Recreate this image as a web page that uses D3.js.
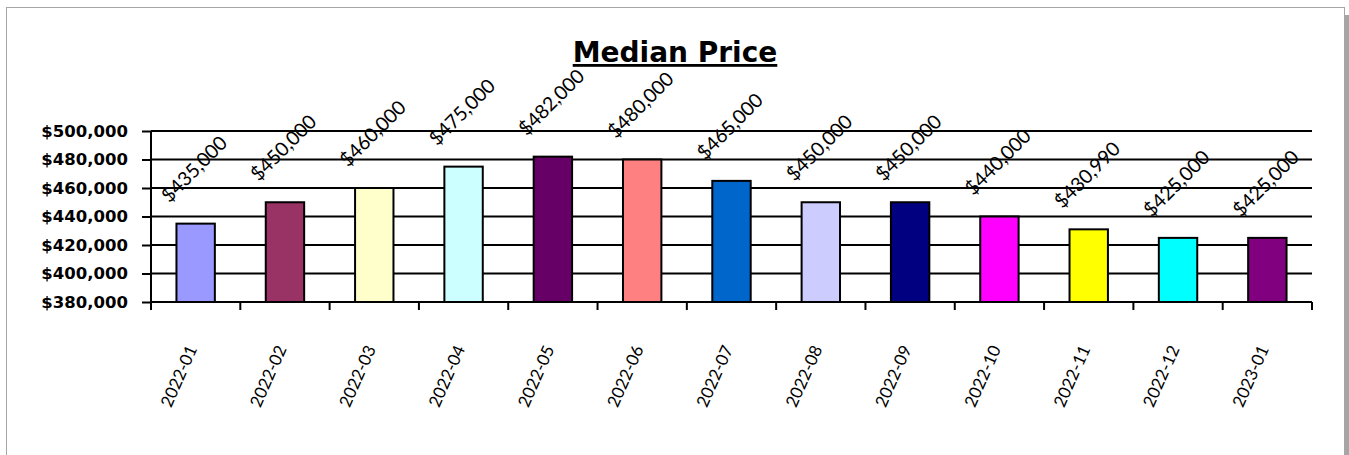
<!DOCTYPE html>
<html>
<head>
<meta charset="utf-8">
<script src="https://cdn.jsdelivr.net/npm/d3@7"></script>
<style>
  body { margin: 0; background: #fff; }
  svg { display: block; }
</style>
</head>
<body>
<div id="chart"></div>
<script>
const months = ['2022-01', '2022-02', '2022-03', '2022-04', '2022-05', '2022-06', '2022-07',
  '2022-08', '2022-09', '2022-10', '2022-11', '2022-12', '2023-01'];
const prices = [435000, 450000, 460000, 475000, 482000, 480000, 465000,
  450000, 450000, 440000, 430990, 425000, 425000];
const barColors = ['#9999ff', '#993366', '#ffffcc', '#ccffff', '#660066', '#ff8080', '#0066cc',
  '#ccccff', '#000080', '#ff00ff', '#ffff00', '#00ffff', '#800080'];
const yTicks = [380000, 400000, 420000, 440000, 460000, 480000, 500000];

const width = 1349;
const height = 455;
const margin = { top: 131, right: 37, bottom: 153, left: 151 };

const svg = d3.select('#chart').append('svg')
  .attr('width', width)
  .attr('height', height);

// frame + shadow on the right
svg.append('rect')
  .attr('x', 6.5).attr('y', 7.5)
  .attr('width', 1338).attr('height', 460)
  .attr('fill', 'none')
  .attr('stroke', '#a6a6a6')
  .attr('stroke-width', 1);
svg.append('rect')
  .attr('x', 1345).attr('y', 15)
  .attr('width', 4).attr('height', height)
  .attr('fill', '#a6a6a6');

const x = d3.scaleBand()
  .domain(months)
  .range([margin.left, width - margin.right])
  .paddingInner(0.57)
  .paddingOuter(0.285);

const y = d3.scaleLinear()
  .domain([380000, 500000])
  .range([height - margin.bottom, margin.top]);

const fmt = d3.format('$,.0f');

// gridlines
svg.append('g')
  .selectAll('line')
  .data(yTicks)
  .join('line')
  .attr('x1', margin.left)
  .attr('x2', width - margin.right)
  .attr('y1', d => y(d))
  .attr('y2', d => y(d))
  .attr('stroke', '#000')
  .attr('stroke-width', 2);

// y axis
const yAxis = svg.append('g')
  .attr('transform', `translate(${margin.left},0)`)
  .call(d3.axisLeft(y).tickValues(yTicks).tickFormat(fmt).tickSize(9).tickPadding(14));
yAxis.select('.domain').attr('stroke-width', 2).attr('d', `M0,${y(500000)}V${y(380000) + 8}`);
yAxis.selectAll('.tick line').attr('stroke-width', 2);
yAxis.selectAll('.tick text')
  .attr('font-family', 'DejaVu Sans')
  .attr('font-weight', 'bold')
  .attr('font-size', 16.5)
  .attr('fill', '#000');

// x axis ticks at category boundaries
const step = x.step();
const bounds = d3.range(months.length + 1).map(i => margin.left + i * step);
svg.append('g')
  .selectAll('line')
  .data(bounds)
  .join('line')
  .attr('x1', d => d)
  .attr('x2', d => d)
  .attr('y1', y(380000))
  .attr('y2', y(380000) + 8)
  .attr('stroke', '#000')
  .attr('stroke-width', 2);

// bars
svg.append('g')
  .selectAll('rect')
  .data(prices)
  .join('rect')
  .attr('x', (d, i) => x(months[i]))
  .attr('y', d => y(d))
  .attr('width', x.bandwidth())
  .attr('height', d => y(380000) - y(d))
  .attr('fill', (d, i) => barColors[i])
  .attr('stroke', '#000')
  .attr('stroke-width', 2);

// value labels
svg.append('g')
  .selectAll('text')
  .data(prices)
  .join('text')
  .attr('transform', (d, i) => `translate(${x(months[i]) + x.bandwidth() / 2 - 2},${y(d) - 55}) rotate(-45)`)
  .attr('text-anchor', 'middle')
  .attr('dominant-baseline', 'central')
  .attr('font-family', 'Lato')
  .attr('font-size', 19.5)
  .attr('fill', '#000')
  .text(d => fmt(d));

// month labels
svg.append('g')
  .selectAll('text')
  .data(months)
  .join('text')
  .attr('transform', d => `translate(${x(d) + x.bandwidth() / 2 - 4},${y(380000) + 44}) rotate(-66)`)
  .attr('text-anchor', 'end')
  .attr('dominant-baseline', 'central')
  .attr('font-family', 'Lato')
  .attr('font-size', 17)
  .attr('fill', '#000')
  .text(d => d);

// title
svg.append('text')
  .attr('x', 675)
  .attr('y', 62)
  .attr('text-anchor', 'middle')
  .attr('font-family', 'DejaVu Sans')
  .attr('font-weight', 'bold')
  .attr('font-size', 28)
  .attr('text-decoration', 'underline')
  .attr('fill', '#000')
  .text('Median Price');
</script>
</body>
</html>
